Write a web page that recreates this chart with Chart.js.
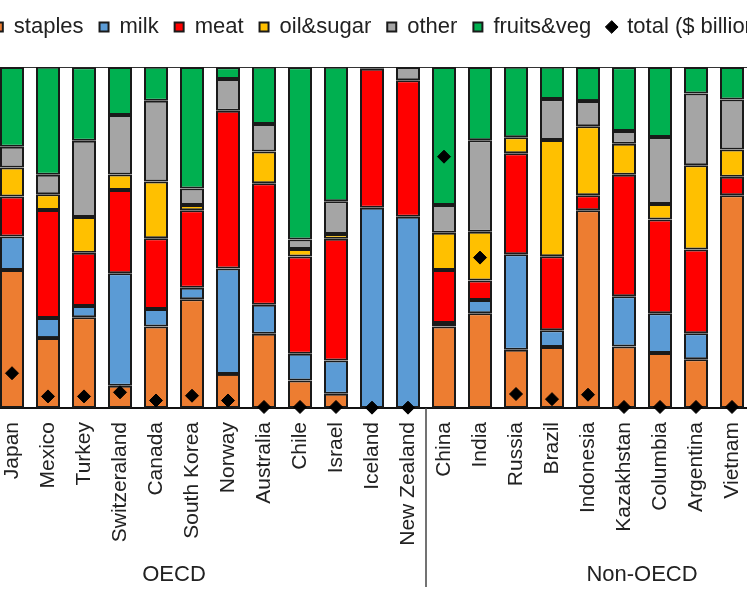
<!DOCTYPE html>
<html>
<head>
<meta charset="utf-8">
<title>Food expenditure by category</title>
<script src="https://cdn.jsdelivr.net/npm/chart.js@4.4.1/dist/chart.umd.min.js"></script>
<style>
    html, body { margin: 0; padding: 0; background: #fff; overflow: hidden; }
    #wrap { position: absolute; left: -36px; top: 0; width: 830px; height: 598px; }
</style>
</head>
<body>
<div id="wrap"><canvas id="foodChart"></canvas></div>
<script>
// share of food spending (%)
const countries = ['Japan', 'Mexico', 'Turkey', 'Switzeraland', 'Canada', 'South Korea', 'Norway',
    'Australia', 'Chile', 'Israel', 'Iceland', 'New Zealand',
    'China', 'India', 'Russia', 'Brazil', 'Indonesia', 'Kazakhstan', 'Columbia', 'Argentina', 'Vietnam'];

const staples   = [40.5, 20.5, 26.6, 6.5, 23.9, 31.9, 10.0, 21.8, 8.1, 4.2, 0, 0, 23.9, 27.8, 17.1, 17.9, 58.0, 18.0, 16.1, 14.3, 62.4];
const milk      = [9.8, 5.9, 3.3, 33.0, 5.1, 3.4, 30.9, 8.5, 7.8, 9.7, 58.7, 56.1, 1.0, 3.9, 28.0, 4.9, 0, 14.8, 11.7, 7.6, 0];
const meat      = [11.7, 31.7, 15.6, 24.4, 20.8, 22.7, 46.3, 35.6, 28.5, 35.7, 40.8, 40.0, 15.6, 5.7, 29.6, 21.7, 4.4, 35.6, 27.5, 24.6, 5.4];
const oilSugar  = [8.5, 4.6, 10.5, 4.6, 16.6, 1.5, 0, 9.3, 2.2, 1.4, 0, 0, 10.9, 14.3, 4.7, 34.1, 20.2, 9.1, 4.5, 24.7, 8.0];
const other     = [6.1, 5.7, 22.4, 17.4, 23.7, 4.9, 9.3, 8.1, 2.8, 9.6, 0.5, 3.9, 8.1, 26.8, 0, 12.0, 7.4, 3.7, 19.7, 21.0, 14.7];
const fruitsVeg = [23.4, 31.7, 21.5, 14.1, 10.0, 35.6, 3.4, 16.8, 50.5, 39.5, 0, 0, 40.5, 21.5, 20.7, 9.5, 10.0, 18.7, 20.5, 7.8, 9.5];

// total spending ($ billion), secondary axis
const totals = [102, 34, 34, 46, 22, 36, 22, 3, 3, 3, 1, 1, 737, 441, 41, 26, 39, 3, 3, 3, 3];

const groupNames = ['OECD', 'Non-OECD'];
const groupSizes = [12, 9];

const FONT = '"Liberation Sans", Arial, sans-serif';
const EDGE = '#1a1a1a';
const INK = '#222';

function barSet(label, data, color) {
    return {
        label: label,
        data: data,
        backgroundColor: color,
        borderColor: EDGE,
        borderWidth: 2,
        borderSkipped: false,
        pointStyle: 'rect',
        barPercentage: 0.667,
        categoryPercentage: 1.0
    };
}

// OECD / Non-OECD captions under the tick labels
const groupLabels = {
    id: 'groupLabels',
    afterDraw(chart) {
        const ctx = chart.ctx;
        const x = chart.scales.x;
        const bottom = chart.chartArea.bottom;
        const splitX = x.getPixelForValue(groupSizes[0] - 0.5);
        ctx.save();
        ctx.strokeStyle = '#444';
        ctx.lineWidth = 1.5;
        ctx.beginPath();
        ctx.moveTo(splitX, bottom);
        ctx.lineTo(splitX, bottom + 179);
        ctx.stroke();
        ctx.font = '22px ' + FONT;
        ctx.fillStyle = INK;
        ctx.textAlign = 'center';
        ctx.textBaseline = 'middle';
        ctx.fillText(groupNames[0], x.getPixelForValue(4.5), bottom + 167);
        ctx.fillText(groupNames[1], x.getPixelForValue(17.5), bottom + 167);
        ctx.restore();
    }
};

new Chart(document.getElementById('foodChart'), {
    type: 'bar',
    data: {
        labels: countries,
        datasets: [
            barSet('staples', staples, '#ED7D31'),
            barSet('milk', milk, '#5B9BD5'),
            barSet('meat', meat, '#FF0000'),
            barSet('oil&sugar', oilSugar, '#FFC000'),
            barSet('other', other, '#A5A5A5'),
            barSet('fruits&veg', fruitsVeg, '#00B050'),
            {
                type: 'line',
                label: 'total ($ billion)',
                data: totals,
                yAxisID: 'yTotal',
                showLine: false,
                order: -1,
                clip: false,
                pointStyle: 'rectRot',
                pointRadius: 6.5,
                backgroundColor: '#000',
                borderColor: '#000',
                borderWidth: 1
            }
        ]
    },
    options: {
        responsive: true,
        maintainAspectRatio: false,
        animation: false,
        layout: { padding: 0 },
        plugins: {
            tooltip: { enabled: false },
            legend: {
                position: 'top',
                labels: {
                    usePointStyle: true,
                    boxWidth: 9,
                    boxHeight: 9,
                    padding: 16,
                    color: INK,
                    font: { family: FONT, size: 22 },
                    sort: (a, b) => a.datasetIndex - b.datasetIndex,
                    generateLabels: chart => {
                        const items = Chart.defaults.plugins.legend.labels.generateLabels(chart);
                        items.forEach(item => {
                            item.pointStyle = item.datasetIndex === 6 ? 'rectRot' : 'rect';
                        });
                        return items;
                    }
                }
            }
        },
        scales: {
            x: {
                stacked: true,
                grid: { display: false, drawTicks: false },
                border: { display: true, color: '#111', width: 2 },
                ticks: {
                    autoSkip: false,
                    maxRotation: 90,
                    minRotation: 90,
                    padding: 14,
                    color: INK,
                    font: { family: FONT, size: 21 }
                },
                afterFit: scale => { scale.height = 190; }
            },
            xTop: {
                position: 'top',
                grid: { display: false, drawTicks: false },
                border: { display: true, color: '#333', width: 1 },
                ticks: { display: false },
                afterFit: scale => { scale.height = 19; }
            },
            y: {
                stacked: true,
                min: 0,
                max: 100,
                grid: { display: false, drawTicks: false },
                border: { display: false },
                ticks: { display: false },
                afterFit: scale => { scale.width = 30; }
            },
            yTotal: {
                position: 'right',
                min: 0,
                max: 1000,
                grid: { display: false, drawTicks: false },
                border: { display: false },
                ticks: { display: false },
                afterFit: scale => { scale.width = 44; }
            }
        }
    },
    plugins: [groupLabels]
});
</script>
</body>
</html>
